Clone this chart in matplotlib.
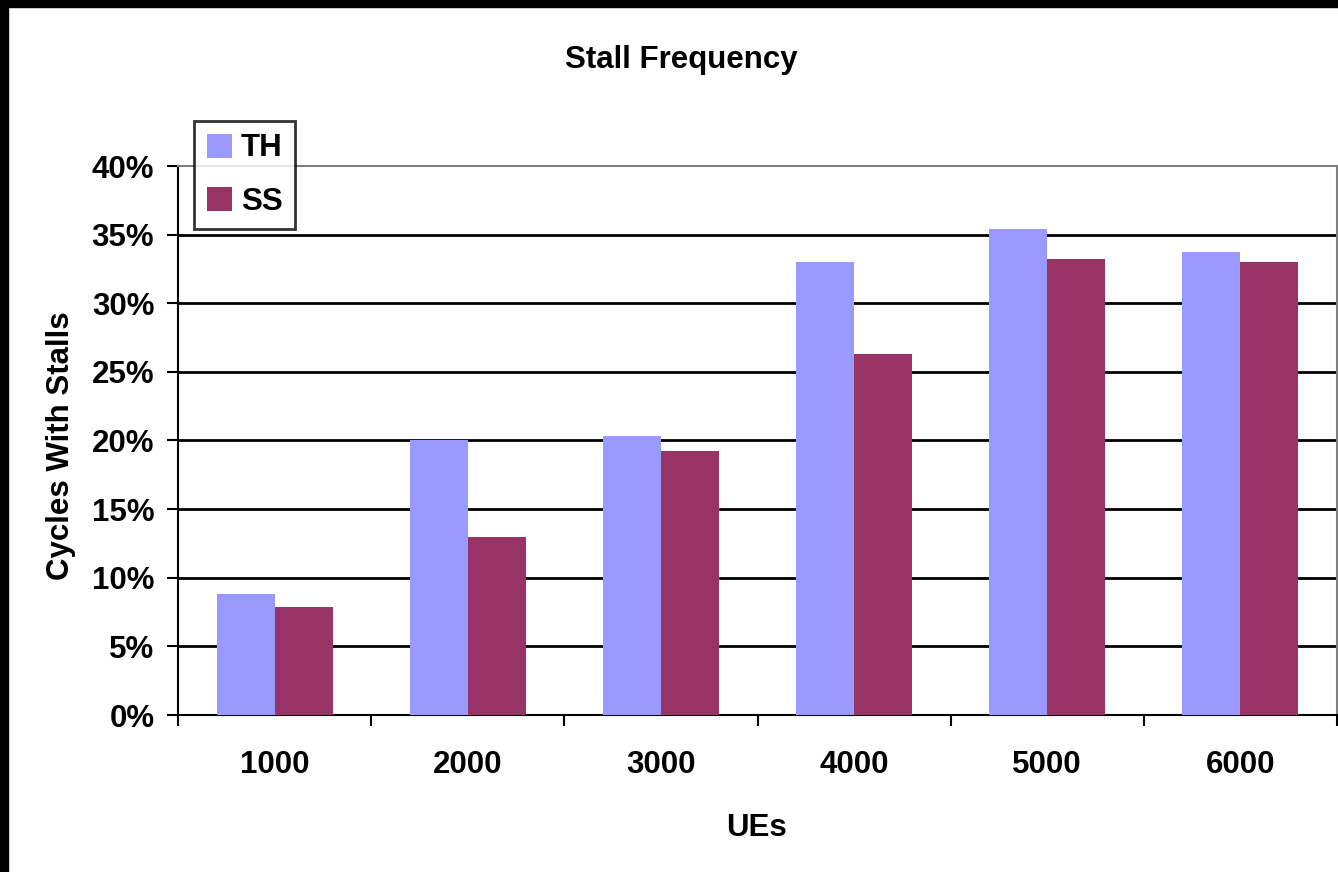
import numpy as np
from matplotlib import pyplot as plt
from matplotlib.patches import Rectangle
from matplotlib.ticker import FuncFormatter, MultipleLocator

categories = ['1000', '2000', '3000', '4000', '5000', '6000']
th_values = [0.088, 0.200, 0.203, 0.330, 0.354, 0.337]
ss_values = [0.079, 0.130, 0.192, 0.263, 0.332, 0.330]

plt.rcParams['font.family'] = ['Liberation Sans', 'DejaVu Sans']
plt.rcParams['font.weight'] = 'bold'
FS = 22.5

fig = plt.figure(figsize=(13.38, 8.72), dpi=100)
ax = fig.add_axes([178 / 1338, 1 - 715 / 872, 1159 / 1338, 549 / 872])

x = np.arange(len(categories))
width = 0.3
ax.bar(x - width / 2, th_values, width, color='#9999FF', label='TH', zorder=3)
ax.bar(x + width / 2, ss_values, width, color='#993366', label='SS', zorder=3)

ax.set_xlim(-0.5, len(categories) - 0.5)
ax.set_ylim(0, 0.40)

# gridlines
ax.yaxis.set_major_locator(MultipleLocator(0.05))
ax.yaxis.set_major_formatter(FuncFormatter(lambda v, p: f'{v * 100:.0f}%'))
for v in np.arange(0.05, 0.36, 0.05):
    ax.axhline(v, color='black', lw=2, zorder=1)

ax.set_xticks(x)
ax.set_xticklabels(categories)
ax.set_xticks(np.arange(-0.5, len(categories)), minor=True)
ax.tick_params(axis='x', which='major', length=0, pad=25, labelsize=FS)
ax.tick_params(axis='x', which='minor', length=8, width=1.5, direction='out')
ax.tick_params(axis='y', length=8, width=1.5, direction='out', pad=9, labelsize=FS)

for side in ['left', 'bottom']:
    ax.spines[side].set_color('black')
    ax.spines[side].set_linewidth(1.5)
for side in ['top', 'right']:
    ax.spines[side].set_color('#808080')
    ax.spines[side].set_linewidth(1.5)

fig.text(681 / 1338, 1 - 60 / 872, 'Stall Frequency', ha='center', va='center',
         fontsize=FS, fontweight='bold')
fig.text(61 / 1338, 1 - 446 / 872, 'Cycles With Stalls', ha='center', va='center',
         rotation=90, fontsize=FS, fontweight='bold')
fig.text(757 / 1338, 1 - 828 / 872, 'UEs', ha='center', va='center',
         fontsize=FS, fontweight='bold')

leg = fig.legend(loc='upper left', bbox_to_anchor=(194 / 1338, 1 - 121 / 872),
                 fontsize=FS, frameon=True, fancybox=False, handlelength=0.8,
                 handleheight=0.8, handletextpad=0.3, labelspacing=0.75,
                 borderpad=0.4, borderaxespad=0)
leg.get_frame().set_edgecolor('black')
leg.get_frame().set_linewidth(2)
leg.set_zorder(5)

# black border at left and top
fig.add_artist(Rectangle((0, 0), 8 / 1338, 1, transform=fig.transFigure,
                         color='black', zorder=10))
fig.add_artist(Rectangle((0, 1 - 7 / 872), 1, 7 / 872, transform=fig.transFigure,
                         color='black', zorder=10))

fig.savefig('out.png', dpi=100)
